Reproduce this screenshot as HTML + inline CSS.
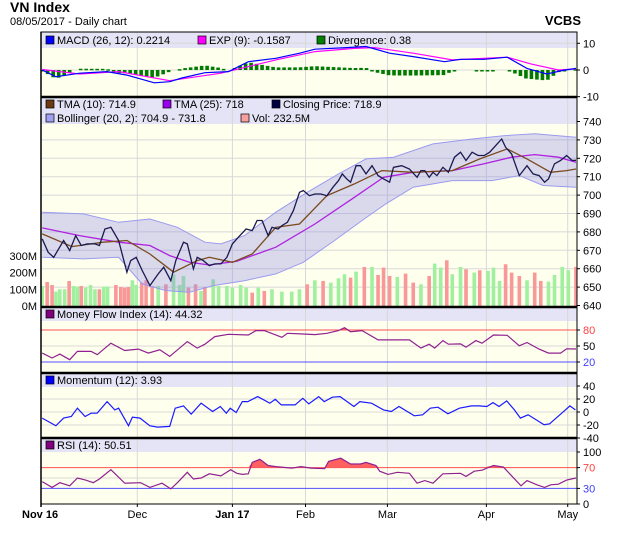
<!DOCTYPE html>
<html><head><meta charset="utf-8">
<style>
html,body{margin:0;padding:0;background:#fff;width:620px;height:535px;overflow:hidden}
svg{display:block;font-family:"Liberation Sans",Arial,sans-serif}
</style></head>
<body>
<svg id="chart" width="620" height="535" viewBox="0 0 620 535" xmlns="http://www.w3.org/2000/svg"></svg>
<script>
// ---------- DATA ----------
const closeDays=[0,1.1,2.1,3.9,5,6.1,7.1,8.2,9.6,10.4,11.4,12.5,13.9,15.4,16.1,17.1,18.2,19.6,21.1,22.1,23.4,24.3,25.7,26.4,27.5,28.2,29.3,30.4,31.4,32.5,33.6,34.6,35.7,37.1,38.2,39.1,40,41.1,41.8,42.9,43.6,44.6,45.7,46.8,47.5,48.6,49.6,50.7,51.8,52.9,53.9,54.6,55.4,56.1,57.1,57.9,58.9,60,61.1,62.1,63.2,63.9,65.4,66.8,68.2,68.9,69.6,70.4,71.1,71.8,72.9,73.9,75,76.1,77.1,78.2,79.3,80.4,81.4,82.5,83.6,84.3,85.4,86.8,88.2,89.3,90.4,91.4,92.1,93.2,94.3,95.4,96.4,97.1];
const closeVals=[676.2,668.9,666.2,675.3,669.9,678,672.6,673.5,673.5,672.6,681.6,682.5,675.3,658.1,664.4,666.2,659,650.8,657.2,660.8,653.5,664.4,674.4,673.5,659.9,666.2,664.4,661.7,662.6,662.6,666.2,673.5,677.1,681.6,680.7,686.2,686.2,678,682.5,681.6,683.4,685.2,691.6,701.5,702.5,699.7,700.6,700.6,699.7,704.3,707.9,711.5,708.8,707,716,716,711.5,716,710.6,708.8,707,715.1,716,714.2,709.7,713.3,713.3,709.7,712.4,710.6,715.1,712.4,720.6,723.3,718.8,723.3,721.5,721.5,723.3,726.9,730.5,726,722.4,710.6,716,711.5,710.6,707,708.8,717,718.8,721.5,718.8,718.9];
const tma25Days=[0,6.8,13.9,19.6,23.2,26.8,30.4,35.4,42.5,49.6,56.8,62.1,67.5,74.6,80.4,85.4,89.6,93.9,97.1];
const tma25Vals=[682.2,678,674.4,672.6,667.1,663.5,662,664,671.7,684.3,698.8,709.7,712.4,713.3,717,720.6,722,720.6,717.9];
const tma10Days=[0,5.4,11.1,15.4,19.6,23.9,28.2,30.4,34.6,38.2,42.5,46.8,51.8,56.8,61.8,67.5,74.6,79.6,84.6,88.2,92.5,95.4,97.1];
const tma10Vals=[678.9,672,674.4,675.3,668,658.1,664.4,666.2,663.5,668,682.5,684.3,699.7,706.1,713.3,712.4,713.3,719.7,725.1,719.7,712.4,713.3,714.2];
const bbUpDays=[0,7.5,13.9,19.6,24.6,29.6,32.5,36.8,42.5,48.2,53.9,58.9,63.9,71.1,78.2,83.9,89.6,93.9,97.1];
const bbUpVals=[690.7,689.8,685.2,687,682.5,674.4,673.5,678,690.7,701.5,711.5,719.7,720.6,727.8,730.5,732.3,733.3,732.3,731.4];
const bbLoDays=[0,7.5,13.9,18.2,22.5,26.8,31.1,36.8,42.5,47.5,53.2,58.2,62.5,67.5,74.6,81.8,86.8,91.1,97.1];
const bbLoVals=[666.2,665.3,666.2,651.7,648.1,647.2,650.8,653.5,657.2,663.5,675.3,686.2,695.2,704.3,707.9,707.9,710.6,705.2,704.3];
const volDays=[0,.9,1.8,2.5,3.2,4.1,4.9,5.7,6.4,7.1,7.9,8.8,9.6,10.4,11.2,11.9,13.4,14.3,15,15.7,16.4,17.1,18.1,18.9,20,21.1,22.5,23.9,25,25.7,26.6,27.9,28.9,29.6,31.1,32.1,33.6,34.6,36.1,37.1,38.2,39.3,40.4,41.8,43.6,45.4,46.8,48.2,49.6,51.1,52.5,53.9,55,56.1,57.1,58.6,60,61.1,62.1,63.2,64.6,66.1,67.5,68.9,70.4,71.4,72.5,73.6,74.6,76.1,77.1,78.6,79.6,81.1,82.1,83.2,84.3,85.4,86.8,88.2,89.6,90.7,92.1,93.2,94.6,95.7,97.1];
const volVals=[120,144,126,86,100,100,150,120,116,120,110,126,100,100,116,116,126,114,110,114,154,126,140,154,120,120,130,190,126,180,110,130,90,114,160,120,120,110,126,110,80,110,90,100,86,86,100,130,154,150,140,166,190,170,206,234,234,186,230,180,174,194,140,130,180,254,230,274,190,234,220,200,214,210,230,150,250,200,180,154,200,150,146,186,234,214,234];
const macdDays=[0,2.5,6.8,11.8,15.4,20.4,23.2,25.4,29.6,33.9,37.5,42.5,46.8,49.6,55.4,58.9,63.2,67.5,73.2,76.1,80.4,84.6,88.2,91.8,94.6,97.1];
const macdVals=[0,-2.5,-1.2,-0.6,-1.9,-4.8,-4.4,-3,-1,-0.6,3.1,4.4,6.3,7.8,8.4,8.8,6.3,5,3.1,4,4,4.8,0.6,-1.5,-0.2,0.6];
const expDays=[0,6.8,13.9,23.2,32.5,42.5,49.6,56.8,60.4,67.5,74.6,84.6,88.9,93.9,97.1];
const expVals=[0.2,-1.5,-0.6,-4,-1.2,3.8,6.9,8.1,8.4,6.3,3.8,4.8,2.3,0,0.4];
const mfiDays=[0,1.8,3.2,5,6.4,8.9,10,12.5,15,17.5,19.3,21.4,23.2,26.4,28.2,29.6,31.4,33.9,37.5,38.9,40.4,43.6,44.6,47.5,49.6,51.8,53.9,55,56.1,58.2,61.1,66.8,68.9,70.4,71.4,72.9,73.9,76.1,77.1,78.9,80,82.1,84.6,86.8,88.2,90.4,92.1,94.3,95.4,97.1];
const mfiVals=[36.7,27.4,34.8,24.3,39.8,39.8,33.6,55.3,41.6,44.1,36.7,42.9,30.5,58.3,46,53.4,67.6,72,70.7,78.8,78.8,66.4,73.8,72.6,71.3,73.8,78.8,84.3,76.9,78.8,61.4,61.4,46,53.4,46,60.2,53.4,54,47.8,60.2,55.3,70.7,70.1,50.3,56.5,44.1,36.7,36.7,44.7,44.3];
const momDays=[0,2.5,3.9,5.3,6.4,7.8,8.9,10,11.8,13.2,13.9,15.7,16.4,17.8,19.6,21,23.2,24.2,25.7,27.1,28.9,31,32.4,33.5,34.2,35.3,36.4,37.4,39.2,41.4,42.4,43.5,46,47.4,48.5,50.3,51.3,52.8,54.2,56.7,57.8,59.9,62.1,63.5,64.9,67.7,69.2,70.6,72,73.8,75.9,78.1,79.5,80.9,82,83.1,84.5,85.9,87,88.4,91.3,92.3,94.5,96,97];
const momVals=[-9.4,-21.2,-9.4,-6.9,5.9,-6.9,-1.8,-1.8,16,3.3,5.9,-21.2,-7.9,-9.4,-21.2,-23.2,-22.2,5.9,9.4,-3.3,13.5,0.8,8.4,-1.8,5.9,-0.8,16,16,23.7,13.5,19.6,11,11,21.1,12.5,23.7,16,22.7,23.7,8.4,16,13.5,3.3,0.8,8.4,-5.9,-4.3,5.9,7.4,-2.8,5.9,9.4,9.4,8.4,14.5,8.4,17.1,3.3,-9.4,-4.3,-19.6,-18.1,-1.8,9.4,3.3];
const rsiDays=[0,1.8,3.2,5,6.4,7.9,9.3,10.4,12.5,15,17.9,19.6,21.8,23.4,24.6,26.4,27.5,28.9,30.4,32.5,34.3,35.4,36.4,37.5,38.2,39.6,41.1,42.5,45.4,47.1,48.9,51.4,52.1,54.3,56.1,57.9,58.9,60.7,61.4,62.9,64.6,66.8,68.2,69.6,71.1,72.9,76.1,77.1,78.6,80,82.1,83.9,87.1,88.2,90,91.4,92.5,93.9,95.4,97.1];
const rsiVals=[43,32,41,35,50,46,41,48,66,40,41,32,40,29,41,61,48,50,58,54,66,59,57,58,80,86,74,72,69,72,69,68,82,88,77,77,80,74,63,57,61,59,40,45,40,58,59,53,63,65,74,71,35,45,37,32,37,38,46,50];
const monthLabels=["Nov 16","Dec","Jan 17","Feb","Mar","Apr","May"];
const monthDays=[0,17.3,34.6,47.9,62.8,80.8,95.6];
const priceTicks=[640,650,660,670,680,690,700,710,720,730,740];
const volTicks=[0,100,200,300];
const volTickLabels=["0M","100M","200M","300M"];
const macdTicks=[-10,0,10];
const mfiTicks=[20,50,80];
const momTicks=[-40,-20,0,20,40];
const rsiTicks=[0,30,70,100];

// ---------- SCALES ----------
const L=41,R=577;
const X=d=>42.2+d*5.497;
const macdY=v=>70-v*2.67;
const priceY=p=>305.5-(p-640)*1.84;
const volY=v=>306-v*0.167;
const mfiY=v=>346-(v-50)*0.533;
const momY=v=>412-v*0.65;
const rsiY=v=>504-v*0.52;

const NS="http://www.w3.org/2000/svg";
const svg=document.getElementById('chart');
function mk(tag,attrs,parent){const e=document.createElementNS(NS,tag);for(const k in attrs)e.setAttribute(k,attrs[k]);(parent||svg).appendChild(e);return e;}
function txt(x,y,s,attrs,parent){const e=mk('text',Object.assign({x:x,y:y,'font-size':11,fill:'#000'},attrs||{}),parent);e.textContent=s;return e;}
function interp(days,vals,d){if(d<=days[0])return vals[0];for(let i=1;i<days.length;i++){if(d<=days[i]){const t=(d-days[i-1])/(days[i]-days[i-1]);return vals[i-1]+t*(vals[i]-vals[i-1]);}}return vals[vals.length-1];}
function pathD(days,vals,fy){return days.map((d,i)=>(i?'L':'M')+X(d).toFixed(1)+','+fy(vals[i]).toFixed(1)).join(' ');}

// title
let t=txt(10,12,'VN Index',{'font-size':14,'font-weight':'bold'});

t=txt(10,25,'08/05/2017 - Daily chart',{'font-size':11});

t=txt(581,25,'VCBS',{'font-size':13,'font-weight':'bold','text-anchor':'end'});


// panels
const panels=[
 {name:'macd-panel',top:32,band:48,bot:97},
 {name:'price-panel',top:97,band:124,bot:307},
 {name:'mfi-panel',top:307,band:321,bot:373},
 {name:'momentum-panel',top:373,band:387,bot:438},
 {name:'rsi-panel',top:438,band:452,bot:504}
];
const defs=mk('defs',{});
panels.forEach((p,i)=>{
 const g=mk('g',{});
 
 mk('rect',{x:L,y:p.top,width:R-L,height:p.bot-p.top,fill:'#ffffee'},g);
 mk('rect',{x:L,y:p.top,width:R-L,height:p.band-p.top,fill:'#e4e4f6'},g);
 const cp=mk('clipPath',{id:'clip'+i},defs);
 mk('rect',{x:L,y:p.top,width:R-L,height:p.bot-p.top},cp);
 monthDays.forEach((d,j)=>{if(j>0)mk('line',{x1:X(d),x2:X(d),y1:p.top,y2:p.bot,stroke:'#d8d8d8','stroke-width':1},g);});
 p.g=g;
});
function hgrid(pi,y,col){mk('line',{x1:L,x2:R,y1:y,y2:y,stroke:col||'#d8d8d8','stroke-width':1},panels[pi].g);}
function rlabel(y,s,col,name){const e=txt(583,y+4,s,{fill:col||'#000'});mk('line',{x1:R,x2:R+3,y1:y,y2:y,stroke:'#000'});}

// MACD panel
macdTicks.forEach(v=>{hgrid(0,macdY(v));rlabel(macdY(v),String(v),'#000','macd-tick');});
const gm=mk('g',{'clip-path':'url(#clip0)'});

for(let d=0;d<=97;d+=1){
 const v=interp(macdDays,macdVals,d)-interp(expDays,expVals,d);
 if(Math.abs(v)<0.15)continue;
 const y0=macdY(0),y1=macdY(v*1.6);
 const b=mk('rect',{x:X(d)-1.8,y:Math.min(y0,y1),width:3.6,height:Math.max(1.5,Math.abs(y1-y0)),fill:'#007a00'},gm);
 
 
}
let ln=mk('path',{d:pathD(expDays,expVals,macdY),fill:'none',stroke:'#ff00ff','stroke-width':1.2},gm);

ln=mk('path',{d:pathD(macdDays,macdVals,macdY),fill:'none',stroke:'#0000ff','stroke-width':1.2},gm);


function legend(x,y,col,s,name){const g=mk('g',{});
 mk('rect',{x:x,y:y-8,width:8,height:8,fill:col,stroke:'#000','stroke-width':0.7},g);txt(x+11,y,s,{'font-size':11},g);}
legend(46,44,'#0000ff','MACD (26, 12): 0.2214','legend-macd');
legend(198,44,'#ff00ff','EXP (9): -0.1587','legend-exp');
legend(317,44,'#008000','Divergence: 0.38','legend-divergence');

// price panel
priceTicks.forEach(v=>{if(v>640&&v<740)hgrid(1,priceY(v));rlabel(priceY(v),String(v),'#000','price-tick');});
volTicks.forEach((v,i)=>{const e=txt(37,volY(v)+4,volTickLabels[i],{'text-anchor':'end'});});
const gp=mk('g',{'clip-path':'url(#clip1)'});

volDays.forEach((d,i)=>{
 const up=interp(closeDays,closeVals,d)>=interp(closeDays,closeVals,d-0.9);
 const b=mk('rect',{x:X(d)-1.8,y:volY(volVals[i]),width:3.6,height:volY(0)-volY(volVals[i]),fill:up?'#a0f0a0':'#f89898'},gp);
 
 
});
let bb='';
bbUpDays.forEach((d,i)=>{bb+=(i?'L':'M')+X(d).toFixed(1)+','+priceY(bbUpVals[i]).toFixed(1);});
for(let i=bbLoDays.length-1;i>=0;i--){bb+='L'+X(bbLoDays[i]).toFixed(1)+','+priceY(bbLoVals[i]).toFixed(1);}
ln=mk('path',{d:bb+'Z',fill:'rgba(140,140,230,0.33)',stroke:'none'},gp);

ln=mk('path',{d:pathD(bbUpDays,bbUpVals,priceY),fill:'none',stroke:'#9a9af0','stroke-width':1},gp);

ln=mk('path',{d:pathD(bbLoDays,bbLoVals,priceY),fill:'none',stroke:'#9a9af0','stroke-width':1},gp);

ln=mk('path',{d:pathD(tma25Days,tma25Vals,priceY),fill:'none',stroke:'#b020e0','stroke-width':1.3},gp);

ln=mk('path',{d:pathD(tma10Days,tma10Vals,priceY),fill:'none',stroke:'#7a4a1e','stroke-width':1.3},gp);

ln=mk('path',{d:pathD(closeDays,closeVals,priceY),fill:'none',stroke:'#1a1a50','stroke-width':1.3},gp);

legend(46,108,'#6b3a10','TMA (10): 714.9','legend-tma10');
legend(163,108,'#9900ee','TMA (25): 718','legend-tma25');
legend(272,108,'#000040','Closing Price: 718.9','legend-close');
legend(46,122,'#a0a0f0','Bollinger (20, 2): 704.9 - 731.8','legend-bollinger');
legend(241,122,'#f8a0a0','Vol: 232.5M','legend-volume');

// MFI
hgrid(2,mfiY(50));
mk('line',{x1:L,x2:R,y1:mfiY(80),y2:mfiY(80),stroke:'#ff5050'},panels[2].g);
mk('line',{x1:L,x2:R,y1:mfiY(20),y2:mfiY(20),stroke:'#5050ff'},panels[2].g);
mfiTicks.forEach(v=>rlabel(mfiY(v),String(v),v==80?'#ff4040':v==20?'#4040ff':'#000','mfi-tick'));
const gf=mk('g',{'clip-path':'url(#clip2)'});

function overFill(days,vals,fy,th,g,name){
 let d='M'+X(days[0])+','+fy(th);
 for(let i=0;i<days.length;i++){d+='L'+X(days[i]).toFixed(1)+','+Math.min(fy(vals[i]),fy(th)).toFixed(1);}
 d+='L'+X(days[days.length-1])+','+fy(th)+'Z';
 const e=mk('path',{d:d,fill:'#ff6060',stroke:'none'},g);
 
}
overFill(mfiDays,mfiVals,mfiY,80,gf,'mfi-overbought-fill');
ln=mk('path',{d:pathD(mfiDays,mfiVals,mfiY),fill:'none',stroke:'#902090','stroke-width':1.2},gf);

legend(46,318,'#800080','Money Flow Index (14): 44.32','legend-mfi');

// Momentum
[-20,0,20].forEach(v=>hgrid(3,momY(v)));
momTicks.forEach(v=>rlabel(momY(v),String(v),'#000','momentum-tick'));
const gmo=mk('g',{'clip-path':'url(#clip3)'});

ln=mk('path',{d:pathD(momDays,momVals,momY),fill:'none',stroke:'#1a1aff','stroke-width':1.2},gmo);

legend(46,384,'#0000ff','Momentum (12): 3.93','legend-momentum');

// RSI
hgrid(4,rsiY(50));
mk('line',{x1:L,x2:R,y1:rsiY(70),y2:rsiY(70),stroke:'#ff5050'},panels[4].g);
mk('line',{x1:L,x2:R,y1:rsiY(30),y2:rsiY(30),stroke:'#5050ff'},panels[4].g);
rsiTicks.forEach(v=>rlabel(rsiY(v),String(v),v==70?'#ff4040':v==30?'#4040ff':'#000','rsi-tick'));
const gr=mk('g',{'clip-path':'url(#clip4)'});

overFill(rsiDays,rsiVals,rsiY,70,gr,'rsi-overbought-fill');
ln=mk('path',{d:pathD(rsiDays,rsiVals,rsiY),fill:'none',stroke:'#902090','stroke-width':1.2},gr);

legend(46,449,'#800080','RSI (14): 50.51','legend-rsi');

// borders
mk('rect',{x:L,y:32,width:R-L,height:504-32,fill:'none',stroke:'#000','stroke-width':1});
[97,307,373,438].forEach(y=>mk('line',{x1:L,x2:R,y1:y,y2:y,stroke:'#000','stroke-width':2.5}));
mk('line',{x1:L,x2:L,y1:32,y2:507,stroke:'#000','stroke-width':1.5});

// x labels
monthLabels.forEach((s,i)=>{
 const bold=(i==0||i==2);
 const e=txt(i==0?22:X(monthDays[i]),518,s,{'text-anchor':i==0?'start':'middle','font-weight':bold?'bold':'normal'});
 
 
 if(i>0)mk('line',{x1:X(monthDays[i]),x2:X(monthDays[i]),y1:504,y2:507,stroke:'#000'});
});
</script>
</body></html>
